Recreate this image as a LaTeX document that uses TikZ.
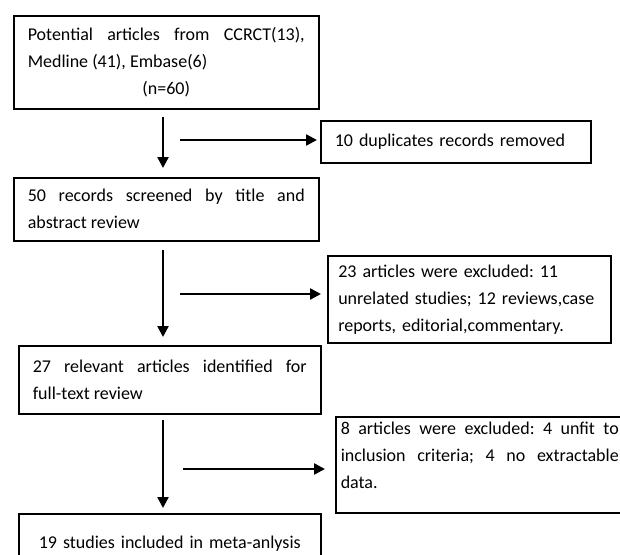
\documentclass[tikz,border=0pt]{standalone}
\usepackage{fontspec}
\setmainfont{Carlito}
\usepackage{tikz}
\usetikzlibrary{arrows.meta, positioning}
\tikzstyle{box} = [draw, rectangle, line width=1.5pt, anchor=north west, inner xsep=14pt, inner ysep=0pt, font=\fontsize{18}{27}\selectfont\frenchspacing]
\tikzstyle{flow} = [draw, line width=2.4pt, -{Triangle[length=11pt, width=11pt]}]

\begin{document}
\begin{tikzpicture}[x=1pt, y=-1pt]
				\useasboundingbox (0,0) rectangle (620,554);
				\clip (0,0) rectangle (620,554);

				% main column
				\node [box, minimum width=305, minimum height=93, text width=277, align=justify] (found) at (13,15) {Potential articles from CCRCT(13),\linebreak Medline (41), Embase(6)\par{\centering (n=60)\par}};
				\node [box, minimum width=305, minimum height=63, text width=277, align=justify] (screen) at (13,177) {50 records screened by title and\linebreak abstract review};
				\node [box, minimum width=302, minimum height=68, text width=274, align=justify] (full) at (18,345) {27 relevant articles identified for\linebreak full-text review};
				\node [box, inner ysep=5pt, text width=274, text height=30pt, text depth=30pt, align=center] (incl) at (18,513) {19 studies included in meta-anlysis};

				% side column
				\node [box, minimum width=270, minimum height=42, text width=242, align=left] (dup) at (320,120) {10 duplicates records removed};
				\node [box, inner xsep=10.5pt, minimum width=283, minimum height=87, text width=262, align=left] (excl1) at (327,255) {23 articles were excluded: 11\\ unrelated studies; 12 reviews,case\\ reports, editorial,commentary.};
				\node [box, inner xsep=5pt, inner ysep=5pt, text width=278, text height=13pt, text depth=73pt, align=justify] (excl2) at (335,416) {8 articles were excluded: 4 unfit to\linebreak inclusion criteria; 4 no extractable\linebreak data.};

				\coordinate (trunk) at (163,0);
				\coordinate (dupout) at (180,140);
				\coordinate (excl1out) at (180,294);
				\coordinate (excl2out) at (183,469);

				\path [flow, shorten <=7pt, shorten >=9pt] (found.south -| trunk) -- (screen.north -| trunk);
				\path [flow, shorten <=8pt, shorten >=8pt] (screen.south -| trunk) -- (full.north -| trunk);
				\path [flow, shorten <=5pt, shorten >=5pt] (full.south -| trunk) -- (incl.north -| trunk);
				\path [flow, shorten >=3pt] (dupout) -- (dupout -| dup.west);
				\path [flow, shorten >=6pt] (excl1out) -- (excl1out -| excl1.west);
				\path [flow, shorten >=10pt] (excl2out) -- (excl2out -| excl2.west);
\end{tikzpicture}
\end{document}
